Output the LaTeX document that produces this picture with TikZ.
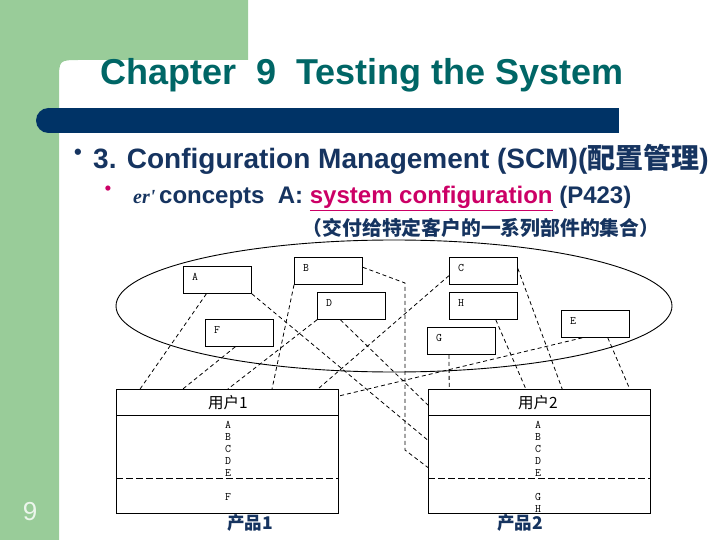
\documentclass[tikz,border=0pt]{standalone}
\usepackage{fontspec}
\setmainfont{Liberation Sans}
\newfontfamily\cjk{Noto Sans CJK SC}
\newfontfamily\seriff{Liberation Serif}
\usetikzlibrary{calc}
\definecolor{sgreen}{RGB}{153,204,153}
\definecolor{navy}{RGB}{0,51,102}
\definecolor{navytxt}{RGB}{22,52,96}
\definecolor{tealt}{RGB}{0,102,102}
\definecolor{crim}{RGB}{204,0,102}
\definecolor{numc}{RGB}{236,246,236}
\newcommand{\fsz}[1]{\fontsize{#1bp}{#1bp}\selectfont}
\begin{document}
\begin{tikzpicture}[x=1bp,y=-1bp,
  cbox/.style={draw,fill=white,line width=0.8bp,minimum width=68bp,minimum height=27bp,
    anchor=north west,inner sep=0pt,
    label={[anchor=center,inner sep=0pt,font=\ttfamily\fsz{11.5},xshift=12bp,yshift=-11bp]north west:#1}},
  bigbox/.style={draw,line width=0.9bp,minimum width=222bp,minimum height=124bp,anchor=north west,inner sep=0pt},
  dl/.style={line width=0.8bp,dash pattern=on 4bp off 3bp},
  sep/.style={line width=0.9bp,dash pattern=on 7bp off 3bp},
  letters/.style={font=\ttfamily\fontsize{11.5bp}{12bp}\selectfont,align=center,inner sep=0pt},
  prod/.style={font=\cjk\bfseries\fsz{17.5},text=navytxt},
  user/.style={font=\cjk\fsz{15.5}}]
\useasboundingbox (0,0) rectangle (720,540);
% background
\fill[sgreen] (0,0) -- (248,0) -- (248,60) -- (80,60) .. controls (59,60) .. (59,81) -- (59,540) -- (0,540) -- cycle;
\fill[navy] (48.5,108) rectangle (619,133);
\fill[navy] (48.5,120.5) circle (12.5);
% titles
\node[anchor=base,inner sep=0pt,font=\bfseries\fsz{36},text=tealt] (title) at (362,85) {Chapter\ \ 9\ \ Testing the System};
\node[inner sep=0pt,font=\bfseries\fsz{22},text=navytxt] (b1) at (78,154) {•};
\node[anchor=base west,inner sep=0pt,font=\bfseries\fsz{28},text=navytxt] (l1) at (93,169) {3. Configuration Management (SCM)({\cjk 配置管理})};
\node[inner sep=0pt,font=\bfseries\fsz{18},text=crim] (b2) at (108,190) {•};
\node[anchor=base west,inner sep=0pt,font=\seriff\bfseries\itshape\fsz{20},text=navytxt] (gl) at (133,204) {er'};
\node[anchor=base west,inner sep=0pt,font=\bfseries\fsz{24},text=navytxt] (l2) at (159,204) {concepts\ \ A: {\color{crim}\underline{system configuration}} (P423)};
\node[anchor=base,inner sep=0pt,font=\cjk\bfseries\fsz{19.8},text=navytxt] (l3) at (481,236) {（交付给特定客户的一系列部件的集合）};
\node[font=\fsz{26},text=numc] (num) at (30,512) {9};
% ellipse
\draw[line width=0.9bp] (394,306) ellipse [x radius=278, y radius=66];
% small boxes
\node[cbox=A] (A) at (183,266) {};
\node[cbox=B] (B) at (294,257) {};
\node[cbox=C] (C) at (449,257) {};
\node[cbox=D] (D) at (317,292) {};
\node[cbox=H] (H) at (449,292) {};
\node[cbox=E] (E) at (561,310) {};
\node[cbox=F] (F) at (205,319) {};
\node[cbox=G] (G) at (427,327) {};
% big boxes
\node[bigbox] (u1) at (116,389) {};
\node[bigbox] (u2) at (428,389) {};
\draw[line width=0.9bp] ($(u1.north west)+(0,26)$) -- ($(u1.north east)+(0,26)$);
\draw[line width=0.9bp] ($(u2.north west)+(0,26)$) -- ($(u2.north east)+(0,26)$);
\draw[sep] ($(u1.north west)+(0,89)$) -- ($(u1.north east)+(0,89)$);
\draw[sep] ($(u2.north west)+(0,89)$) -- ($(u2.north east)+(0,89)$);
\node[user] (u1t) at (228,403) {用户1};
\node[user] (u2t) at (538,403) {用户2};
\node[letters] (u1l) at (228,449) {A\\B\\C\\D\\E};
\node[letters] (u2l) at (538,449) {A\\B\\C\\D\\E};
\node[letters] (u1f) at (228,497) {F};
\node[letters] (u2g) at (538,503) {G\\H};
\node[prod] (p1) at (250,523) {产品1};
\node[prod] (p2) at (520,523) {产品2};
% connectors to user 1
\draw[dl] ($(A.south west)!0.34!(A.south east)$) -- ($(u1.north west)!0.108!(u1.north east)$);
\draw[dl] ($(F.south west)!0.44!(F.south east)$) -- ($(u1.north west)!0.300!(u1.north east)$);
\draw[dl] (D.south west) -- ($(u1.north west)!0.502!(u1.north east)$);
\draw[dl] (B.south west) -- ($(u1.north west)!0.700!(u1.north east)$);
\draw[dl] ($(C.north west)!0.67!(C.south west)$) -- ($(u1.north west)!0.906!(u1.north east)$);
\draw[dl] ($(E.south west)!0.31!(E.south east)$) -- ($(u1.north east)!0.056!(u1.south east)$);
% connectors to user 2
\draw[dl] (A.south east) -- ($(u2.north west)!0.411!(u2.south west)$);
\draw[dl] ($(D.south west)!0.34!(D.south east)$) -- ($(u2.north west)!0.129!(u2.south west)$);
\draw[dl] ($(B.north east)!0.37!(B.south east)$) -- (405,283) -- (405,450) -- ($(u2.north west)!0.629!(u2.south west)$);
\draw[dl] ($(G.south west)!0.32!(G.south east)$) -- ($(u2.north west)!0.095!(u2.north east)$);
\draw[dl] ($(H.south west)!0.68!(H.south east)$) -- ($(u2.north west)!0.439!(u2.north east)$);
\draw[dl] ($(C.north east)!0.41!(C.south east)$) -- ($(u2.north west)!0.602!(u2.north east)$);
\draw[dl] ($(E.south west)!0.68!(E.south east)$) -- ($(u2.north west)!0.905!(u2.north east)$);
\end{tikzpicture}
\end{document}
